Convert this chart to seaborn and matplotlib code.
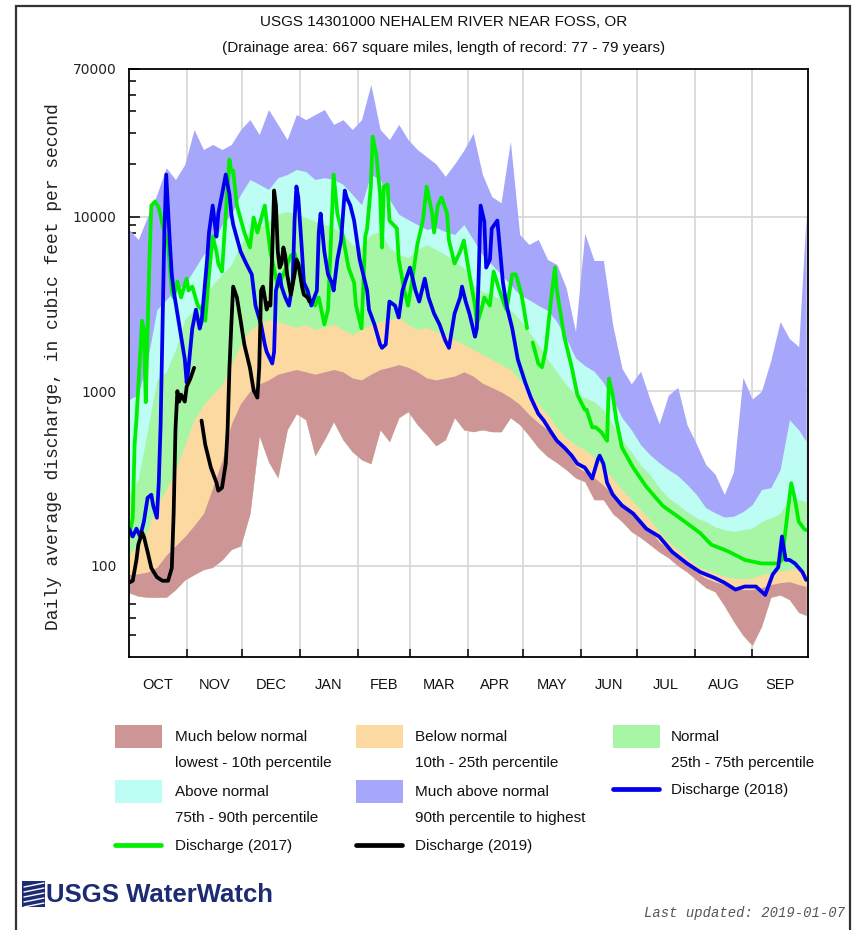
import numpy as np
import pandas as pd
import matplotlib
matplotlib.use("Agg")
import matplotlib.pyplot as plt
from matplotlib.patches import Rectangle
from matplotlib.lines import Line2D
from matplotlib.ticker import FixedLocator, NullFormatter
import seaborn as sns

W, H = 854, 930

# ---- daily statistics (day 0 = Oct 1), cubic feet per second ----
band_days = list(range(0, 365, 5)) + [364]
flow_min = [70, 67, 66, 66, 66, 73, 83, 89, 95, 98,
            108, 124, 130, 199, 556, 394, 319, 601, 743, 686,
            427, 527, 668, 527, 450, 405, 384, 601, 514, 705,
            763, 643, 563, 487, 527, 705, 601, 586, 601, 586,
            586, 705, 643, 556, 474, 422, 389, 355, 319, 303,
            239, 239, 199, 179, 157, 145, 132, 120, 111, 100,
            92, 83, 75, 71, 59, 48, 40, 35, 45, 66,
            68, 64, 54, 52]
flow_p10 = [89, 90, 92, 98, 115, 130, 147, 170, 199, 280,
            400, 650, 850, 1000, 1100, 1160, 1250, 1290, 1330, 1290,
            1250, 1290, 1330, 1290, 1190, 1160, 1250, 1330, 1370, 1420,
            1370, 1290, 1190, 1160, 1190, 1220, 1290, 1220, 1110, 1050,
            990, 920, 839, 735, 660, 601, 527, 474, 374, 345,
            320, 289, 256, 229, 209, 184, 161, 137, 124, 114,
            105, 92, 85, 81, 78, 75, 73, 73, 75, 78,
            80, 81, 78, 76]
flow_p25 = [116, 132, 161, 224, 273, 355, 493, 686, 839, 955,
            1090, 1420, 1850, 2250, 2410, 2570, 2500, 2410, 2320, 2410,
            2250, 2320, 2410, 2250, 2110, 2250, 2410, 2500, 2570, 2640,
            2410, 2250, 2320, 2190, 2110, 1970, 1850, 1730, 1620, 1520,
            1420, 1330, 1160, 1010, 839, 735, 617, 541, 493, 462,
            418, 366, 316, 273, 239, 209, 184, 157, 137, 124,
            111, 100, 95, 91, 87, 85, 84, 85, 89, 91,
            93, 95, 98, 93]
flow_p75 = [256, 311, 601, 1160, 1290, 1730, 2570, 2930, 3340, 4080,
            4660, 5310, 6920, 8440, 8650, 9360, 10300, 10700, 10300, 9870,
            9360, 9000, 8650, 7890, 6920, 6650, 7890, 8200, 6650, 6050,
            5820, 6470, 6920, 6470, 6050, 5520, 5110, 4080, 3720, 3570,
            3340, 2930, 2570, 2190, 1850, 1520, 1290, 1090, 955, 920,
            870, 783, 643, 527, 449, 376, 333, 280, 245, 224,
            204, 188, 179, 167, 161, 157, 161, 164, 179, 188,
            199, 245, 239, 233]
flow_p90 = [894, 955, 1520, 2930, 3340, 3820, 4080, 4970, 6050, 6920,
            9000, 10300, 13400, 16300, 15300, 14300, 16700, 17400, 18600, 18100,
            16300, 16700, 16300, 15300, 13400, 11700, 17400, 16300, 12500, 10300,
            9610, 9000, 8440, 8650, 8200, 7890, 9000, 7390, 6050, 5310,
            4660, 4080, 3570, 3340, 3100, 2900, 2500, 2000, 1550, 1400,
            1300, 1120, 900, 705, 601, 493, 433, 389, 355, 328,
            292, 256, 215, 201, 190, 192, 204, 224, 273, 280,
            355, 686, 601, 514]
flow_max = [8440, 7390, 10000, 13400, 19000, 16300, 19900, 31500, 24200, 25900,
            24200, 25900, 31500, 35900, 29500, 41000, 33700, 27600, 38400, 35900,
            38400, 41000, 33700, 35900, 31500, 35900, 57000, 31500, 27600, 33700,
            27600, 24200, 22000, 20000, 17000, 20000, 24000, 30000, 17400, 13000,
            12000, 27000, 7890, 6920, 7390, 5670, 5310, 3900, 2200, 8000,
            5600, 5600, 2400, 1350, 1100, 1300, 900, 650, 950, 1050,
            640, 500, 380, 335, 256, 346, 1200, 900, 1000, 1500,
            2500, 2000, 1800, 10300]

# ---- daily discharge by water year (NaN = missing record) ----
wy2017_days = [0, 2, 3, 4, 7, 8, 9, 10, 11, 12, 14, 16, 18, 20, 21, 23, 24, 26, 28, 31,
               32, 34, 37, 39, 41, 43, 45, 47, 48, 50, 52, 54, 55, 56, 58, 62, 65, 67, 69, 73,
               74, 76, 80, 83, 87, 89, 93, 96, 100, 102, 105, 107, 110, 112, 115, 118, 121, 122, 125, 127,
               128, 130, 131, 133, 135, 136, 137, 139, 140, 144, 145, 148, 150, 152, 155, 158, 160, 163, 164, 166,
               168, 171, 172, 175, 178, 180, 183, 186, 187, 190, 191, 194, 196, 199, 202, 203, 206, 208, 211, 214,
               215, 217, 220, 222, 224, 227, 229, 230, 234, 238, 241, 245, 246, 249, 251, 254, 257, 258, 260, 262,
               265, 271, 278, 287, 296, 307, 313, 322, 331, 340, 349, 351, 354, 356, 358, 360, 363, 364]
wy2017_cfs = [147, 188, 493, 686, 2530, 2250, 865, 2250, 5670, 11560, 12200, 11260, 9000, 7390, 6920, 3770, 3440, 4240, 3440, 4410,
              3770, 3970, 3090, 2930, 2530, 4660, 7680, 6300, 5380, 4840, 10270, 21200, 18100, 18300, 11560, 8100, 6650, 9870, 8100, 11560,
              9360, 6300, 3970, 4660, 5980, 6130, 4660, 3440, 3090, 3440, 2410, 2930, 17400, 10400, 7680, 5100, 4180, 3090, 2290, 7680,
              8540, 14850, 28700, 22400, 13370, 6650, 14850, 15250, 9480, 8540, 5670, 3770, 3090, 4180, 6920, 9480, 14850, 10400, 8100, 11560,
              12850, 10400, 7290, 5380, 6300, 7290, 4660, 3090, 2410, 3090, 3440, 3090, 4840, 3820, 3090, 2930, 4660, 4660, 3570, 2290,
              np.nan, 1900, 1440, 1370, 1730, 3440, 5100, 3770, 2050, 1370, 955, 783, 783, 620, 620, 580, 520, 1180, 955, 680,
              475, 365, 284, 220, 188, 154, 132, 121, 108, 103, 103, 108, 200, 297, 239, 179, 162, 160]

wy2018_days = [0, 2, 4, 6, 8, 10, 12, 13, 15, 16, 17, 18, 19, 20, 21, 22, 23, 24, 27, 30,
               31, 32, 34, 36, 38, 39, 40, 42, 43, 45, 46, 47, 48, 50, 52, 54, 55, 56, 60, 63,
               66, 68, 71, 73, 74, 77, 78, 79, 81, 82, 84, 86, 88, 89, 90, 91, 93, 94, 96, 98,
               101, 102, 103, 105, 107, 109, 110, 112, 114, 116, 117, 119, 121, 124, 128, 129, 132, 135, 136, 138,
               140, 143, 145, 147, 149, 151, 152, 154, 156, 159, 161, 164, 167, 170, 172, 175, 178, 179, 181, 183,
               186, 187, 188, 189, 191, 192, 194, 195, 198, 199, 201, 203, 206, 209, 213, 216, 220, 223, 227, 230,
               234, 238, 241, 245, 249, 252, 253, 255, 257, 260, 265, 271, 278, 285, 292, 300, 307, 315, 320, 326,
               331, 337, 342, 346, 349, 351, 353, 355, 358, 362, 364]
wy2018_cfs = [163, 147, 163, 147, 179, 245, 255, 221, 188, 299, 643, 2280, 8100, 17400, 11000, 6920, 4660, 3770, 2400, 1520,
              1120, 1360, 2280, 2930, 2280, 2500, 3260, 5670, 8100, 11560, 9360, 7680, 10400, 13370, 17400, 13370, 10400, 9000, 6300, 5380,
              4660, 3090, 2400, 1850, 1680, 1440, 1680, 3770, 4660, 3970, 3440, 3090, 4190, 9490, 14860, 12850, 6300, 4190, 3770, 3090,
              3770, 8100, 10400, 6300, 4660, 4190, 3770, 5670, 7290, 14090, 12850, 11560, 9490, 5670, 3770, 2930, 2400, 1850, 1770, 1850,
              3260, 3090, 2640, 3770, 4410, 5100, 4660, 3770, 3260, 4410, 3440, 2780, 2400, 1950, 1770, 2780, 3440, 3970, 3260, 2780,
              2050, 2290, 4660, 11560, 9360, 5100, 5670, 8540, 9480, 7290, 4190, 3090, 2290, 1520, 1120, 918, 743, 678, 580, 520,
              475, 427, 384, 365, 316, 405, 427, 384, 299, 256, 221, 199, 163, 147, 120, 103, 92, 85, 80, 73,
              76, 76, 68, 89, 98, 147, 108, 108, 103, 92, 83]

wy2019_days = [0, 2, 4, 5, 7, 8, 10, 12, 15, 18, 21, 23, 24, 25, 26, 27, 28, 30, 31, 33,
               35, 37, 39, 41, 44, 47, 48, 50, 52, 53, 54, 55, 56, 58, 60, 62, 65, 67, 69, 70,
               71, 72, 73, 74, 75, 76, 77, 78, 79, 80, 81, 82, 83, 84, 85, 87, 89, 90, 91, 93,
               94, 96, 97]
wy2019_cfs = [80, 82, 108, 132, 155, 147, 120, 97, 86, 82, 82, 97, 199, 610, 1000, 871, 955, 871, 1060, 1180,
              1360, np.nan, 678, 493, 365, 299, 269, 280, 384, 601, 1360, 2400, 3970, 3440, 2540, 1850, 1360, 1010, 918, 1360,
              3770, 3970, 3440, 2930, 3200, 3090, 6300, 14090, 11560, 6300, 5100, 5380, 6650, 5980, 4660, 3570, 4660, 5670, 5380, 3970,
              3570, 3440, 3260]

months = ["OCT", "NOV", "DEC", "JAN", "FEB", "MAR", "APR", "MAY", "JUN", "JUL", "AUG", "SEP"]
month_starts = [0, 31, 61, 92, 123, 151, 182, 212, 243, 273, 304, 335, 365]

# ---- style ----
sns.set_style("white")
sans = ["Liberation Sans", "DejaVu Sans"]
mono = ["Liberation Mono", "DejaVu Sans Mono"]
plt.rcParams["font.family"] = sans


def fx(px):
    return px / W


def fy(py):
    return 1 - py / H


fig = plt.figure(figsize=(W / 100, H / 100), dpi=100, facecolor="white")
ax = fig.add_axes([fx(129), fy(657), fx(808) - fx(129), fy(69) - fy(657)])
ax.set_yscale("log")

# light grid at month boundaries and decades
for d in month_starts[1:-1]:
    ax.axvline(d, color="#d6d6d6", lw=1.2, zorder=0)
for v in (100, 1000, 10000):
    ax.axhline(v, color="#d6d6d6", lw=1.2, zorder=0)

# percentile bands, stacked from the widest down so edges meet cleanly
band_tops = [
    (flow_max, "#a6a6fb"),
    (flow_p90, "#bdfdf4"),
    (flow_p75, "#a7f6a5"),
    (flow_p25, "#fdd9a2"),
    (flow_p10, "#cd9595"),
]
for top, col in band_tops:
    ax.fill_between(band_days, flow_min, top, color=col, lw=0, zorder=1)


def draw_year(days, cfs, color):
    df = pd.DataFrame({"day": days, "cfs": cfs})
    df["run"] = df["cfs"].isna().cumsum()
    df = df.dropna()
    sns.lineplot(data=df, x="day", y="cfs", units="run", estimator=None, sort=False,
                 color=color, lw=2.7, ax=ax, zorder=5, legend=False)


draw_year(wy2017_days, wy2017_cfs, "#00ee00")
draw_year(wy2018_days, wy2018_cfs, "#0000ee")
draw_year(wy2019_days, wy2019_cfs, "#000000")

ax.set_xlim(0, 365)
ax.set_ylim(30, 70000)
ax.set_xlabel("")
ax.set_ylabel("")

# x axis: boundary ticks, month names centred
mid = [(a + b) / 2 for a, b in zip(month_starts[:-1], month_starts[1:])]
ax.xaxis.set_major_locator(FixedLocator(month_starts[1:-1]))
ax.xaxis.set_major_formatter(NullFormatter())
ax.xaxis.set_minor_locator(FixedLocator(mid))
ax.set_xticklabels(months, minor=True)
ax.tick_params(axis="x", which="major", direction="in", length=6, width=1.1,
               color="black", bottom=True, top=False)
ax.tick_params(axis="x", which="minor", length=0, pad=15, labelsize=10.5, labelcolor="#111111")

# y axis: log ticks
ax.yaxis.set_major_locator(FixedLocator([100, 1000, 10000, 70000]))
ax.set_yticklabels(["100", "1000", "10000", "70000"])
minor_vals = [m * 10 ** e for e in (1, 2, 3) for m in range(2, 10)] + [20000, 30000, 40000, 50000, 60000]
minor_vals = [v for v in minor_vals if 30 < v < 70000 and v not in (100, 1000, 10000)]
ax.yaxis.set_minor_locator(FixedLocator(minor_vals))
ax.yaxis.set_minor_formatter(NullFormatter())
ax.tick_params(axis="y", which="major", direction="in", length=8, width=1.1,
               color="black", left=True, right=False, pad=9, labelsize=10, labelcolor="#222222")
ax.tick_params(axis="y", which="minor", direction="in", length=5, width=1.1,
               color="black", left=True, right=False)
for lbl in ax.get_yticklabels():
    lbl.set_family("DejaVu Sans")

for sp in ax.spines.values():
    sp.set_color("black")
    sp.set_linewidth(1.3)
    sp.set_zorder(6)

# titles
fig.text(fx(444), fy(22), "USGS 14301000 NEHALEM RIVER NEAR FOSS, OR",
         ha="center", va="center", fontsize=11, color="#111111")
fig.text(fx(444), fy(48), "(Drainage area: 667 square miles, length of record: 77 - 79 years)",
         ha="center", va="center", fontsize=11, color="#111111")
fig.text(fx(54), fy(367), "Daily average discharge, in cubic feet per second",
         rotation=90, ha="center", va="center", family=mono, fontsize=13, color="#222222")

# legend
def swatch(x, y, col):
    fig.add_artist(Rectangle((fx(x), fy(y + 23)), 47 / W, 23 / H,
                             transform=fig.transFigure, facecolor=col, edgecolor="none"))


def legline(x, y, col):
    fig.add_artist(Line2D([fx(x), fx(x + 46)], [fy(y), fy(y)],
                          transform=fig.transFigure, color=col, lw=3.4))


def legtext(x, y, s):
    fig.text(fx(x), fy(y), s, ha="left", va="center", fontsize=11, color="#111111")


swatch(115, 725, "#cd9595")
legtext(175, 737, "Much below normal")
legtext(175, 763, "lowest - 10th percentile")
swatch(356, 725, "#fdd9a2")
legtext(415, 737, "Below normal")
legtext(415, 763, "10th - 25th percentile")
swatch(613, 725, "#a7f6a5")
legtext(671, 737, "Normal")
legtext(671, 763, "25th - 75th percentile")
swatch(115, 780, "#bdfdf4")
legtext(175, 792, "Above normal")
legtext(175, 818, "75th - 90th percentile")
swatch(356, 780, "#a6a6fb")
legtext(415, 792, "Much above normal")
legtext(415, 818, "90th percentile to highest")
legline(613, 789, "#0000ee")
legtext(671, 790, "Discharge (2018)")
legline(115, 845, "#00ee00")
legtext(175, 846, "Discharge (2017)")
legline(356, 845, "#000000")
legtext(415, 846, "Discharge (2019)")

# WaterWatch banner
navy = "#1d2b72"
fig.add_artist(Rectangle((fx(22), fy(907)), 23 / W, 26 / H, transform=fig.transFigure,
                         facecolor=navy, edgecolor="none"))
for i in range(5):
    y0 = 884 + i * 5
    fig.add_artist(Line2D([fx(24), fx(44)], [fy(y0 + 3), fy(y0 - 1)], transform=fig.transFigure,
                          color="white", lw=1.0))
fig.text(fx(46), fy(895), "USGS WaterWatch", ha="left", va="center", fontsize=18.5,
         fontweight="bold", color=navy)
fig.text(fx(845), fy(913), "Last updated: 2019-01-07", ha="right", va="center",
         family=mono, style="italic", fontsize=10, color="#555555")

# outer frame
fig.add_artist(Rectangle((fx(16), fy(940)), (850 - 16) / W, (940 - 6) / H,
                         transform=fig.transFigure, fill=False, edgecolor="#333333", lw=1.6))

fig.savefig("out.png", dpi=100, facecolor="white")
